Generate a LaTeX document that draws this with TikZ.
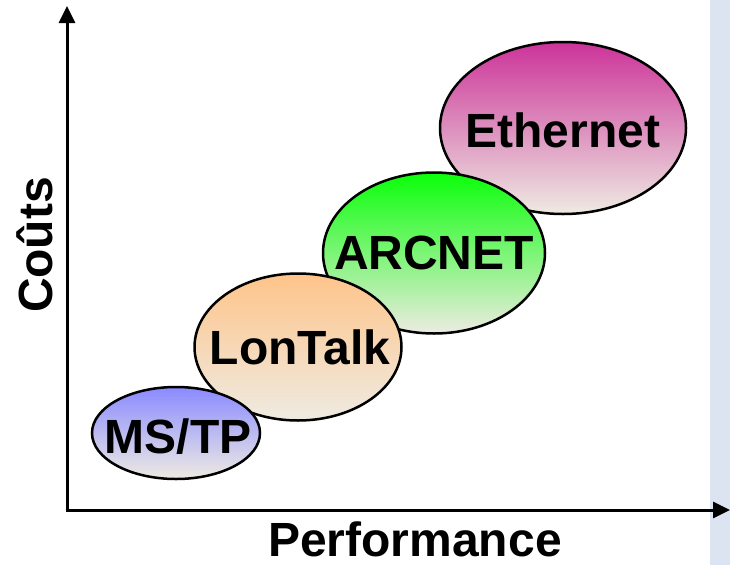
\documentclass[tikz,border=0pt]{standalone}
\usepackage{fontspec}
\setmainfont{Liberation Sans}
\usetikzlibrary{shapes.geometric,arrows.meta}

\definecolor{panelblue}{RGB}{220,228,242}
\definecolor{paleend}{RGB}{238,235,226}
\definecolor{ethtop}{RGB}{204,51,153}
\definecolor{arctop}{RGB}{10,255,10}
\definecolor{lontop}{RGB}{255,196,138}
\definecolor{mstop}{RGB}{138,138,255}

\tikzset{
  bubble/.style={ellipse, draw=black, line width=2.5pt, inner sep=0pt,
    bottom color=paleend},
  tag/.style={font=\fontsize{48}{52}\selectfont\bfseries, inner sep=0pt},
  axisline/.style={line width=3pt, -{Triangle[length=17pt,width=16pt]}},
}

\begin{document}
\begin{tikzpicture}[x=1pt,y=-1pt]
    \useasboundingbox (0,0) rectangle (730,565);

        % side panel
        \fill[panelblue] (710,0) rectangle (730,565);

        % axes
        \coordinate (origin) at (67,510);
        \coordinate (ytip) at (67,6);
        \coordinate (xtip) at (730,510);
        \draw[axisline] ([yshift=1.5pt]origin) -- (ytip);
        \draw[axisline] ([xshift=-1.5pt]origin) -- (xtip);

        % axis labels
        \node[tag, rotate=90] (couts) at (35,245) {Coûts};
        \node[tag] (perf) at (415,539) {Performance};

        % bus technologies, back to front
        \node[bubble, top color=ethtop, minimum width=246pt, minimum height=172pt] (ethernet) at (563,128) {};
        \node[tag] (ethernet-txt) at ([yshift=-2pt]ethernet) {Ethernet};
        \node[bubble, top color=arctop, minimum width=222pt, minimum height=161pt] (arcnet) at (434,253) {};
        \node[tag] (arcnet-txt) at (arcnet) {ARCNET};
        \node[bubble, top color=lontop, minimum width=207pt, minimum height=147pt] (lontalk) at (298,347) {};
        \node[tag] (lontalk-txt) at ([xshift=2pt]lontalk) {LonTalk};
        \node[bubble, top color=mstop, minimum width=168pt, minimum height=92pt] (mstp) at (176,433) {};
        \node[tag] (mstp-txt) at ([yshift=-4pt,xshift=2pt]mstp) {MS/TP};
\end{tikzpicture}
\end{document}
